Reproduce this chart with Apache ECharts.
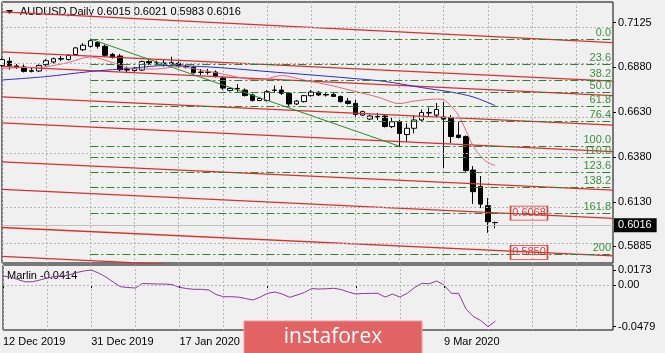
<!DOCTYPE html>
<html>
<head>
<meta charset="utf-8">
<script src="https://cdn.jsdelivr.net/npm/echarts@6/dist/echarts.min.js"></script>
<style>
html, body { margin: 0; padding: 0; background: #f0f0f0; }
#chart { width: 665px; height: 353px; }
</style>
</head>
<body>
<div id="chart"></div>
<script>
// trading days on the chart, then the empty bars to the right
const dates = [
  '12 Dec 2019','13 Dec 2019','16 Dec 2019','17 Dec 2019','18 Dec 2019','19 Dec 2019','20 Dec 2019','23 Dec 2019','24 Dec 2019','26 Dec 2019','27 Dec 2019','30 Dec 2019','31 Dec 2019',
  '2 Jan 2020','3 Jan 2020','6 Jan 2020','7 Jan 2020','8 Jan 2020','9 Jan 2020','10 Jan 2020','13 Jan 2020','14 Jan 2020','15 Jan 2020','16 Jan 2020','17 Jan 2020','20 Jan 2020','21 Jan 2020','22 Jan 2020','23 Jan 2020','24 Jan 2020','27 Jan 2020','28 Jan 2020','29 Jan 2020','30 Jan 2020','31 Jan 2020',
  '3 Feb 2020','4 Feb 2020','5 Feb 2020','6 Feb 2020','7 Feb 2020','10 Feb 2020','11 Feb 2020','12 Feb 2020','13 Feb 2020','14 Feb 2020','17 Feb 2020','18 Feb 2020','19 Feb 2020','20 Feb 2020','21 Feb 2020','24 Feb 2020','25 Feb 2020','26 Feb 2020','27 Feb 2020','28 Feb 2020',
  '2 Mar 2020','3 Mar 2020','4 Mar 2020','5 Mar 2020','6 Mar 2020','9 Mar 2020','10 Mar 2020','11 Mar 2020','12 Mar 2020','13 Mar 2020','16 Mar 2020','17 Mar 2020','18 Mar 2020',
  '19 Mar 2020','20 Mar 2020','23 Mar 2020','24 Mar 2020','25 Mar 2020','26 Mar 2020','27 Mar 2020','30 Mar 2020','31 Mar 2020','1 Apr 2020','2 Apr 2020','3 Apr 2020','6 Apr 2020','7 Apr 2020','8 Apr 2020','9 Apr 2020'
];

// open, close, low, high
const candles = [
  [0.6888,0.6920,0.6879,0.6929],[0.6911,0.6888,0.6864,0.6933],[0.6885,0.6877,0.6868,0.6896],[0.6879,0.6855,0.6849,0.6893],
  [0.6855,0.6859,0.6849,0.6874],[0.6857,0.6888,0.6851,0.6893],[0.6892,0.6914,0.6885,0.6923],[0.6907,0.6925,0.6899,0.6932],
  [0.6923,0.6926,0.6912,0.6940],[0.6921,0.6944,0.6915,0.6951],[0.6948,0.6985,0.6943,0.6990],[0.6975,0.7000,0.6968,0.7012],
  [0.6994,0.7025,0.6988,0.7035],[0.7015,0.6994,0.6981,0.7023],[0.6994,0.6944,0.6935,0.7004],[0.6949,0.6933,0.6926,0.6957],
  [0.6940,0.6864,0.6855,0.6951],[0.6865,0.6862,0.6851,0.6882],[0.6859,0.6872,0.6854,0.6879],[0.6862,0.6909,0.6857,0.6915],
  [0.6909,0.6899,0.6890,0.6921],[0.6900,0.6902,0.6887,0.6915],[0.6901,0.6899,0.6882,0.6918],[0.6899,0.6903,0.6881,0.6936],
  [0.6900,0.6881,0.6876,0.6910],[0.6881,0.6879,0.6871,0.6893],[0.6877,0.6847,0.6843,0.6885],[0.6849,0.6851,0.6835,0.6868],
  [0.6851,0.6850,0.6837,0.6868],[0.6851,0.6826,0.6821,0.6860],[0.6818,0.6762,0.6751,0.6826],[0.6749,0.6760,0.6743,0.6765],
  [0.6760,0.6758,0.6740,0.6785],[0.6751,0.6721,0.6715,0.6760],[0.6724,0.6694,0.6687,0.6732],[0.6693,0.6704,0.6690,0.6713],
  [0.6693,0.6742,0.6687,0.6751],[0.6749,0.6751,0.6735,0.6776],[0.6751,0.6733,0.6724,0.6774],[0.6733,0.6674,0.6664,0.6740],
  [0.6674,0.6690,0.6668,0.6696],[0.6687,0.6720,0.6682,0.6724],[0.6720,0.6740,0.6715,0.6751],[0.6739,0.6724,0.6718,0.6746],
  [0.6726,0.6724,0.6715,0.6738],[0.6727,0.6716,0.6713,0.6735],[0.6715,0.6687,0.6682,0.6721],[0.6690,0.6677,0.6670,0.6707],
  [0.6677,0.6616,0.6603,0.6696],[0.6612,0.6631,0.6607,0.6637],[0.6590,0.6607,0.6585,0.6615],[0.6604,0.6601,0.6585,0.6624],
  [0.6607,0.6549,0.6543,0.6615],[0.6548,0.6575,0.6540,0.6596],[0.6574,0.6510,0.6439,0.6585],[0.6504,0.6539,0.6464,0.6566],
  [0.6539,0.6585,0.6511,0.6612],[0.6585,0.6626,0.6579,0.6643],[0.6624,0.6626,0.6607,0.6654],[0.6612,0.6643,0.6601,0.6679],
  [0.6601,0.6590,0.6317,0.6686],[0.6593,0.6493,0.6457,0.6612],[0.6501,0.6488,0.6482,0.6574],[0.6493,0.6304,0.6298,0.6499],
  [0.6307,0.6187,0.6118,0.6329],[0.6216,0.6118,0.6096,0.6274],[0.6109,0.6020,0.5959,0.6152],[0.6015,0.6016,0.5983,0.6021]
];

// moving averages read at some bars: [bar, price]
const maSlow = [[0,0.6807],[6,0.6826],[12,0.6854],[18,0.6874],[22,0.6887],[27,0.6882],[32,0.6868],[36,0.6854],
  [42,0.6835],[47,0.6818],[52,0.6799],[57,0.6765],[61,0.6740],[64,0.6713],[67,0.6665]];
const maFast = [[0,0.6872],[3,0.6876],[6,0.6881],[9,0.6904],[12,0.6935],[15,0.6904],[18,0.6868],[21,0.6868],
  [24,0.6882],[27,0.6862],[30,0.6840],[33,0.6815],[35,0.6807],[38,0.6832],[41,0.6807],[45,0.6774],[48,0.6743],
  [51,0.6713],[54,0.6676],[56,0.6690],[59,0.6701],[60,0.6696],[61,0.6662],[62,0.6612],[63,0.6529],[64,0.6440],
  [65,0.6385],[66,0.6349],[67,0.6332]];

// sloping red lines: price at first bar, price at last bar on the right
const channels = [
  [0.7185,0.7014],[0.6963,0.6801],[0.6883,0.6720],[0.6713,0.6557],[0.6569,0.6409],
  [0.6352,0.6196],[0.6200,0.6039],[0.5988,0.5830],[0.5828,0.5663]
];
const trendLine = [['31 Dec 2019',0.7035],['28 Feb 2020',0.6439]];

const fibStart = '31 Dec 2019';
const fibLevels = ['0.0','23.6','38.2','50.0','61.8','76.4','100.0','110.0','123.6','138.2','161.8','200'];
const fibPrices = [0.7034,0.6894,0.6807,0.6739,0.6662,0.6579,0.6439,0.6378,0.6294,0.6209,0.6068,0.5839];

const priceTicks = [0.7125,0.6880,0.6630,0.6380,0.6130,0.5885];
const lastPrice = 0.6016;
const quote = [0.6015,0.6021,0.5983,0.6016];
const priceTags = [0.6068,0.5850];
const tagBar = '25 Mar 2020';

const marlin = [
  0.0104,0.0093,0.0064,0.0038,0.0038,0.0058,0.0081,0.0098,0.0104,0.0116,0.0144,0.0162,
  0.0173,0.0139,0.0093,0.0035,-0.0019,-0.0028,-0.0034,0.0018,0.0015,0.0012,0.0012,0.0006,
  -0.0026,-0.0040,-0.0049,-0.0049,-0.0057,-0.0109,-0.0134,-0.0134,-0.0138,-0.0155,-0.0172,-0.0138,
  -0.0095,-0.0080,-0.0103,-0.0141,-0.0115,-0.0086,-0.0040,-0.0046,-0.0042,-0.0037,-0.0051,-0.0080,
  -0.0103,-0.0097,-0.0095,-0.0095,-0.0138,-0.0103,-0.0138,-0.0095,-0.0028,0.0020,0.0015,0.0047,
  0.0001,-0.0095,-0.0095,-0.0276,-0.0362,-0.0408,-0.0479,-0.0414
];
const marlinTicks = [0.0173,0,-0.0479];

const font = 'Liberation Sans';
const gridColor = '#b4b4b4';
const lastBar = dates[dates.length - 1];
const firstBar = dates[0];

const chart = echarts.init(document.getElementById('chart'));

const series = []

// dotted price grid
series.push({
  type: 'line', data: [], silent: true, z: 1,
  markLine: {
    symbol: 'none', silent: true, label: { show: false },
    lineStyle: { color: gridColor, type: [2, 2], width: 1 },
    data: priceTicks.map(v => ({ yAxis: v }))
  }
})

series.push({
  type: 'candlestick', data: candles, barWidth: 5, z: 2,
  itemStyle: { color: '#ffffff', color0: '#000000', borderColor: '#000000', borderColor0: '#000000', borderWidth: 1 },
  markLine: {
    symbol: 'none', silent: true,
    lineStyle: { color: '#c0c0c0', type: 'solid', width: 1 },
    label: {
      position: 'end', distance: 1, formatter: lastPrice.toFixed(4),
      backgroundColor: '#000', color: '#fff', padding: [2, 5, 1, 4], fontSize: 11, fontFamily: font
    },
    data: [{ yAxis: lastPrice }]
  },
  markPoint: {
    symbol: 'rect', symbolSize: [37, 14], symbolOffset: [-3, 0], silent: true,
    itemStyle: { color: 'rgba(0,0,0,0)', borderColor: '#e03a3a', borderWidth: 1 },
    label: { show: true, position: 'inside', color: '#e03a3a', fontSize: 11, fontFamily: font, formatter: p => p.value.toFixed(4) },
    data: priceTags.map(p => ({ coord: [tagBar, p], value: p }))
  }
})

channels.forEach(c => {
  series.push({
    type: 'line', data: [[firstBar, c[0]], [lastBar, c[1]]], symbol: 'none', silent: true, z: 4,
    lineStyle: { color: '#dc2e2e', width: 1.3 }
  })
})

series.push({
  type: 'line', data: [], silent: true, z: 4,
  markLine: {
    symbol: 'none', silent: true,
    lineStyle: { color: '#2f7f2f', type: [8, 3, 2, 3], width: 1 },
    label: { position: 'insideEndTop', formatter: '{b}', color: '#3e8e3e', fontSize: 11, fontFamily: font, distance: [2, 1] },
    data: fibPrices.map((p, k) => [{ coord: [fibStart, p], name: fibLevels[k] }, { coord: [lastBar, p] }])
  }
})

series.push({
  type: 'line', data: trendLine, symbol: 'none', silent: true, z: 4,
  lineStyle: { color: '#2e8b2e', width: 1 }
})

series.push({
  type: 'line', data: maSlow, symbol: 'none', smooth: 0.3, silent: true, z: 4,
  lineStyle: { color: '#2d2dc8', width: 1 }
})
series.push({
  type: 'line', data: maFast, symbol: 'none', smooth: 0.3, silent: true, z: 4,
  lineStyle: { color: '#dc6a7c', width: 1 }
})

// Marlin
series.push({
  type: 'line', data: marlin, xAxisIndex: 1, yAxisIndex: 1, symbol: 'none', silent: true,
  lineStyle: { color: '#8c3a96', width: 1 },
  markLine: {
    symbol: 'none', silent: true, label: { show: false },
    lineStyle: { color: gridColor, type: [2, 2], width: 1 },
    data: [{ yAxis: 0 }]
  }
})

const dayLine = i => i % 6 === 0
const dayLabel = i => i % 12 === 0 && i < candles.length

const option = {
  backgroundColor: '#f0f0f0',
  animation: false,
  grid: [
    { left: 2, top: 2, width: 611, height: 261, show: true, borderColor: '#000', borderWidth: 1, backgroundColor: 'transparent' },
    { left: 2, top: 265, width: 611, height: 65, show: true, borderColor: '#000', borderWidth: 1, backgroundColor: 'transparent' }
  ],
  xAxis: [
    {
      gridIndex: 0, type: 'category', data: dates, boundaryGap: false,
      axisLine: { show: false }, axisTick: { show: false }, axisLabel: { show: false },
      splitLine: { show: true, interval: dayLine, lineStyle: { color: gridColor, type: [2, 2] } }
    },
    {
      gridIndex: 1, type: 'category', data: dates, boundaryGap: false,
      axisLine: { show: false },
      axisTick: { show: true, interval: dayLabel, length: 3, lineStyle: { color: '#000' } },
      axisLabel: { show: true, interval: dayLabel, align: 'left', margin: 6, color: '#000', fontSize: 11, fontFamily: font },
      splitLine: { show: true, interval: dayLine, lineStyle: { color: gridColor, type: [2, 2] } }
    }
  ],
  yAxis: [
    {
      gridIndex: 0, type: 'value', position: 'right', min: 0.5791, max: 0.7240,
      axisLine: { show: false }, splitLine: { show: false },
      axisTick: { show: true, customValues: priceTicks, length: 3, lineStyle: { color: '#000' } },
      axisLabel: { customValues: priceTicks, formatter: v => v.toFixed(4), margin: 5, color: '#000', fontSize: 11, fontFamily: font }
    },
    {
      gridIndex: 1, type: 'value', position: 'right', min: -0.0517, max: 0.0231,
      axisLine: { show: false }, splitLine: { show: false },
      axisTick: { show: true, customValues: marlinTicks, length: 3, lineStyle: { color: '#000' } },
      axisLabel: { customValues: marlinTicks, formatter: v => v === 0 ? '0.00' : v.toFixed(4), margin: 5, color: '#000', fontSize: 11, fontFamily: font }
    }
  ],
  graphic: [
    { type: 'polygon', shape: { points: [[6, 10], [13, 10], [9.5, 14]] }, style: { fill: '#000' } },
    { type: 'text', x: 20, y: 12, style: { text: 'AUDUSD,Daily', font: '11px "Liberation Sans"', fill: '#000', verticalAlign: 'middle' } },
    { type: 'text', x: 97, y: 12, style: { text: quote.map(v => v.toFixed(4)).join(' '), font: '11px "Liberation Sans"', fill: '#000', verticalAlign: 'middle' } },
    { type: 'text', x: 7, y: 276, style: { text: 'Marlin ' + marlin[marlin.length - 1].toFixed(4), font: '11px "Liberation Sans"', fill: '#000', verticalAlign: 'middle' } },
    { type: 'rect', zlevel: 5, z: 100, shape: { x: 244, y: 321, width: 178, height: 33 }, style: { fill: '#e26363', stroke: '#f09a9a', lineWidth: 1 } },
    { type: 'text', zlevel: 5, z: 101, x: 333, y: 337, style: { text: 'instaforex', font: '21px "Open Sans"', fill: '#ffffff', align: 'center', verticalAlign: 'middle' } }
  ],
  series: series
}

chart.setOption(option)
</script>
</body>
</html>
